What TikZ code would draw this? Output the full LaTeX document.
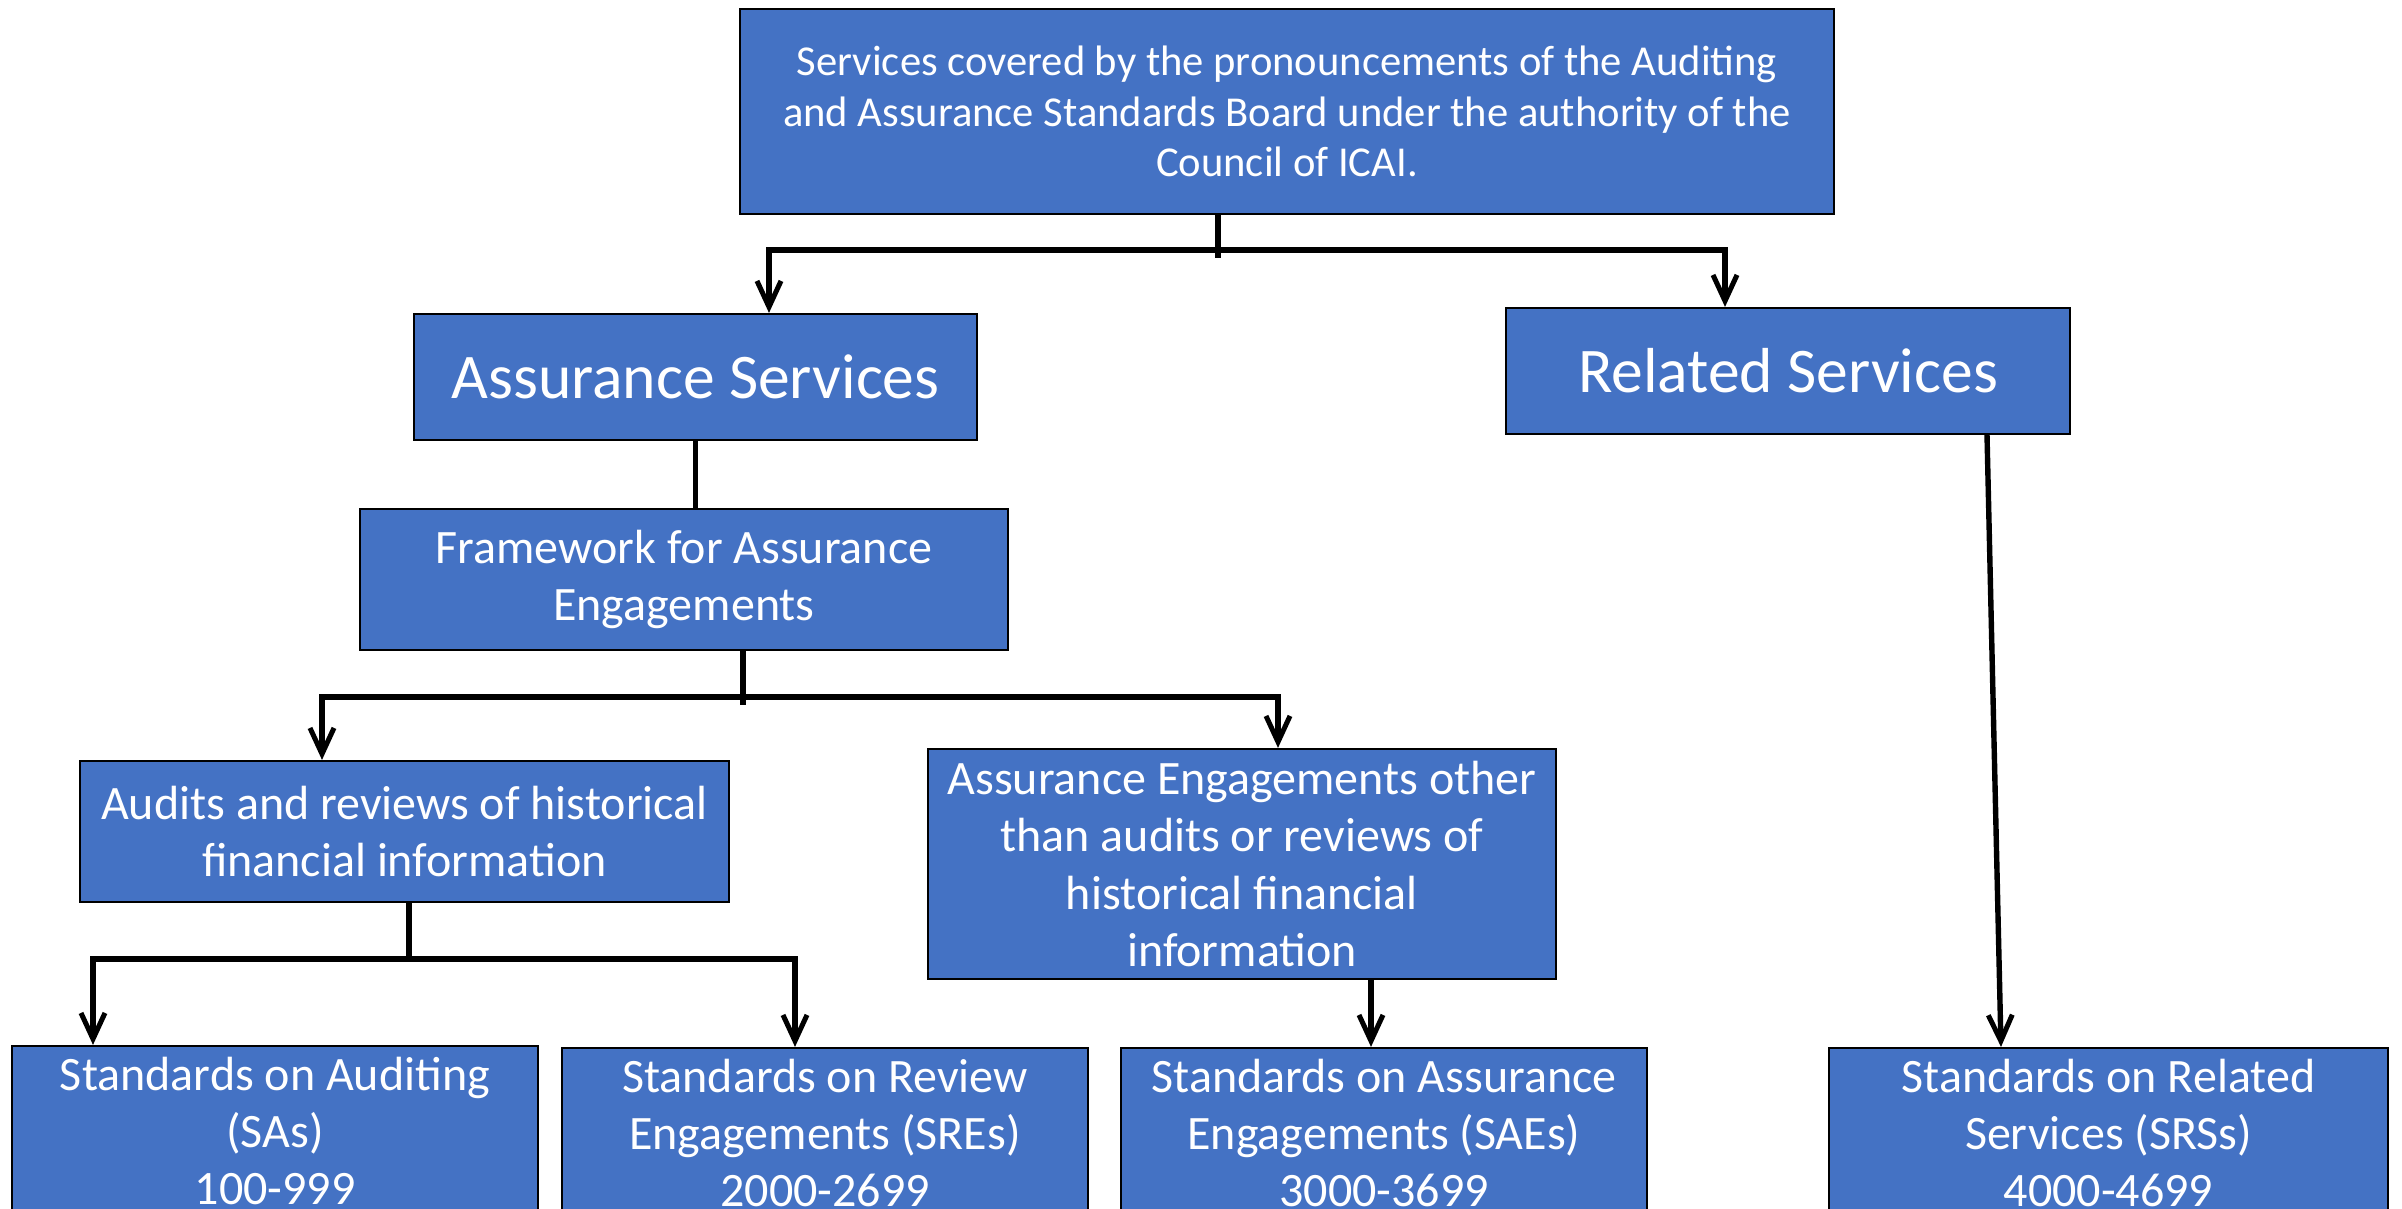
\documentclass[tikz,border=0pt]{standalone}
\usepackage{fontspec}
\setmainfont{Carlito}
\usetikzlibrary{arrows.meta}
\definecolor{boxblue}{HTML}{4472C4}
\begin{document}
\begin{tikzpicture}[x=0.5pt,y=-0.5pt,
  box/.style={draw=black, line width=1.1pt, fill=boxblue, text=white, align=center, inner sep=0pt},
  topfont/.style={font=\fontsize{21.3}{25.25}\selectfont},
  bigfont/.style={font=\fontsize{31.8}{36}\selectfont},
  midfont/.style={font=\fontsize{24}{28.6}\selectfont},
  conn/.style={line width=2.7pt, line join=miter},
  tip/.tip={Straight Barb[length=13pt,width=12pt,line width=2.5pt]},
  arr/.style={conn, -tip},
  darr/.style={conn, tip-tip}]
\useasboundingbox (0,0) rectangle (2402,1209);
\clip (0,0) rectangle (2402,1209);

\node[box, topfont, minimum width=547pt, minimum height=102.5pt] (top) at (1287,111.5)
  {Services covered by the pronouncements of the Auditing\\and Assurance Standards Board under the authority of the\\Council of ICAI.};
\node[box, bigfont, minimum width=281.5pt, minimum height=63pt] (assur) at (695.5,377) {Assurance Services};
\node[box, bigfont, minimum width=282pt, minimum height=63pt] (rel) at (1788,371) {Related Services};
\node[box, midfont, minimum width=324pt, minimum height=70.5pt] (fw) at (684,579.5) {Framework for Assurance\\Engagements};
\node[box, midfont, minimum width=324.5pt, minimum height=70.5pt] (aud) at (404.5,831.5) {Audits and reviews of historical\\financial information};
\node[box, midfont, minimum width=314pt, minimum height=115pt] (oth) at (1242,864) {Assurance Engagements other\\than audits or reviews of\\historical financial\\information};
\node[box, midfont, minimum width=263pt, minimum height=85pt] (sa) at (275,1131) {Standards on Auditing\\(SAs)\\100-999};
\node[box, midfont, minimum width=263pt, minimum height=85pt] (sre) at (825,1133) {Standards on Review\\Engagements (SREs)\\2000-2699};
\node[box, midfont, minimum width=263pt, minimum height=85pt] (sae) at (1384,1133) {Standards on Assurance\\Engagements (SAEs)\\3000-3699};
\node[box, midfont, minimum width=279.5pt, minimum height=85pt] (srs) at (2108.5,1133) {Standards on Related\\Services (SRSs)\\4000-4699};

% top split
\coordinate (j1) at (1218,258);
\coordinate (l1) at (769,250);
\coordinate (r1) at (1725,250);
\draw[conn] (top.south -| j1) -- (j1);
\draw[darr] (l1 |- assur.north) -- (l1) -- (r1) -- (r1 |- rel.north);

% assurance to framework
\draw[conn] (assur.south) -- (assur.south |- fw.north);

% framework split
\coordinate (j2) at (743,705);
\coordinate (l2) at (322,697);
\coordinate (r2) at (1278,697);
\draw[conn] (fw.south -| j2) -- (j2);
\draw[darr] (l2 |- aud.north) -- (l2) -- (r2) -- (r2 |- oth.north);

% audits split
\coordinate (j3) at (409,959);
\coordinate (l3) at (93,959);
\coordinate (r3) at (795,959);
\draw[conn] (aud.south -| j3) -- (j3);
\draw[darr] (l3 |- sa.north) -- (l3) -- (r3) -- (r3 |- sre.north);

% other to SAEs
\coordinate (c4) at (1371,0);
\draw[arr] (oth.south -| c4) -- (sae.north -| c4);

% related to SRSs
\draw[arr] ([xshift=99.5pt]rel.south) -- ([xshift=-53.75pt]srs.north);
\end{tikzpicture}
\end{document}
